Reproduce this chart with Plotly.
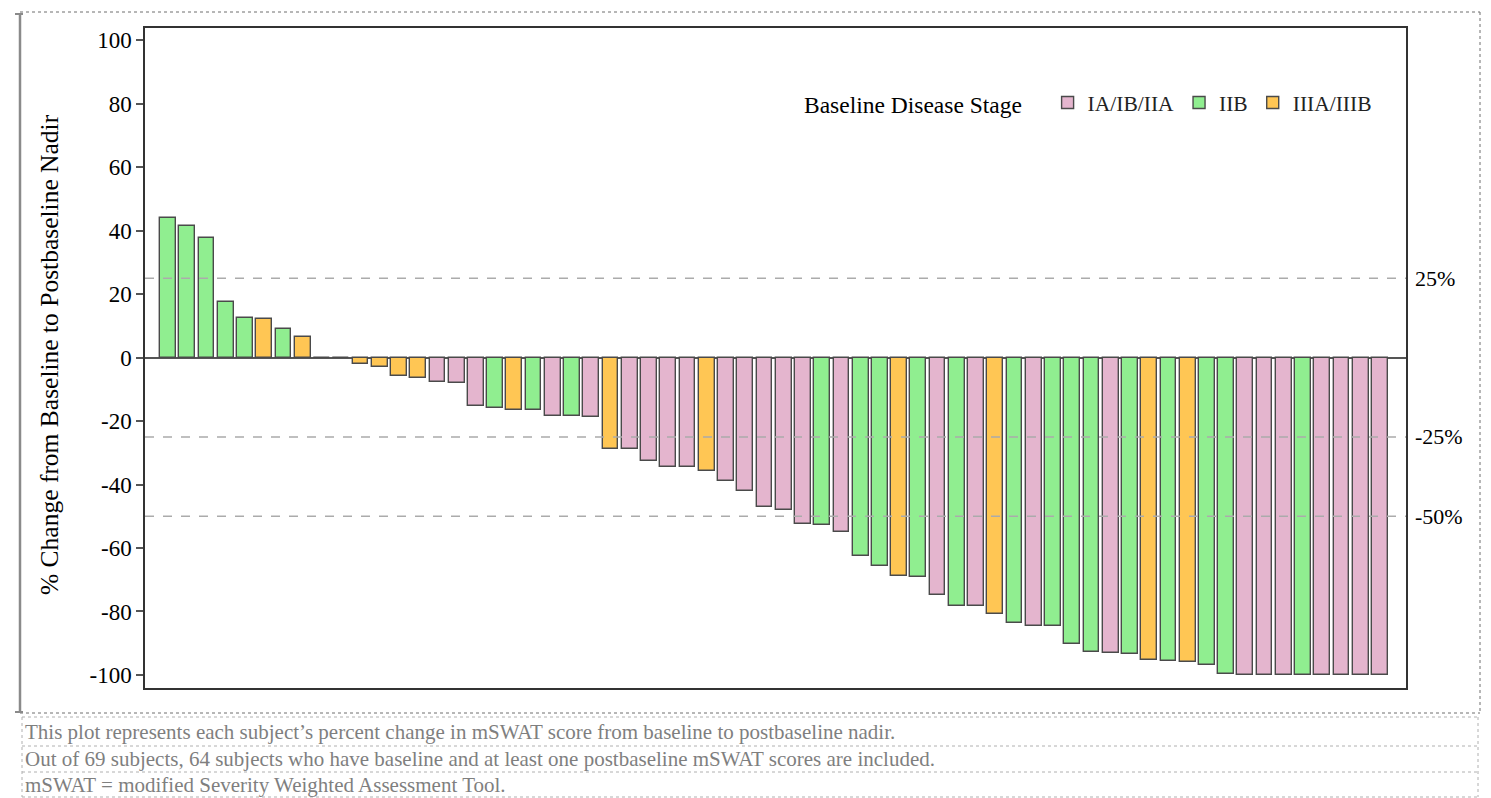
import plotly.graph_objects as go

# ---------------- data ----------------
stage_names = ["IA/IB/IIA", "IIB", "IIIA/IIIB"]
stage_colors = ["#E4B5CE", "#90EE90", "#FFC654"]

pct_change = [
    43.9, 41.5, 37.5, 17.4, 12.3, 12.0, 9.1, 6.5, 0.0, 0.0,
    -2.0, -2.9, -5.7, -6.5, -7.6, -7.9, -15.2, -16.0, -16.4, -16.4,
    -18.4, -18.4, -18.7, -28.8, -28.7, -32.6, -34.5, -34.6, -35.9, -38.8,
    -42.2, -47.0, -47.9, -52.4, -52.6, -54.9, -62.5, -65.8, -68.9, -69.2,
    -74.9, -78.4, -78.4, -80.7, -83.7, -84.7, -84.7, -90.1, -92.7, -93.2,
    -93.5, -95.3, -95.7, -96.0, -96.9, -99.6, -100.0, -100.0, -100.0, -100.0,
    -100.0, -100.0, -100.0, -100.0,
]
stage = [
    "IIB", "IIB", "IIB", "IIB", "IIB", "IIIA/IIIB", "IIB", "IIIA/IIIB", "IA/IB/IIA", "IA/IB/IIA",
    "IIIA/IIIB", "IIIA/IIIB", "IIIA/IIIB", "IIIA/IIIB", "IA/IB/IIA", "IA/IB/IIA", "IA/IB/IIA", "IIB", "IIIA/IIIB", "IIB",
    "IA/IB/IIA", "IIB", "IA/IB/IIA", "IIIA/IIIB", "IA/IB/IIA", "IA/IB/IIA", "IA/IB/IIA", "IA/IB/IIA", "IIIA/IIIB", "IA/IB/IIA",
    "IA/IB/IIA", "IA/IB/IIA", "IA/IB/IIA", "IA/IB/IIA", "IIB", "IA/IB/IIA", "IIB", "IIB", "IIIA/IIIB", "IIB",
    "IA/IB/IIA", "IIB", "IA/IB/IIA", "IIIA/IIIB", "IIB", "IA/IB/IIA", "IIB", "IIB", "IIB", "IA/IB/IIA",
    "IIB", "IIIA/IIIB", "IIB", "IIIA/IIIB", "IIB", "IIB", "IA/IB/IIA", "IA/IB/IIA", "IA/IB/IIA", "IIB",
    "IA/IB/IIA", "IA/IB/IIA", "IA/IB/IIA", "IA/IB/IIA",
]
subject = list(range(len(pct_change)))

ref_values = [25, -25, -50]
ref_labels = ["25%", "-25%", "-50%"]
y_ticks = [100, 80, 60, 40, 20, 0, -20, -40, -60, -80, -100]
y_tick_labels = ["100", "80", "60", "40", "20", "0", "-20", "-40", "-60", "-80", "-100"]

footnotes = [
    "This plot represents each subject\u2019s percent change in mSWAT score from baseline to postbaseline nadir.",
    "Out of 69 subjects, 64 subjects who have baseline and at least one postbaseline mSWAT scores are included.",
    "mSWAT = modified Severity Weighted Assessment Tool.",
]

# ---------------- geometry helpers (screen pixels) ----------------
OFF = 8                      # default page margin of the html body
W, H = 1491 - 2 * OFF, 798 - OFF
L, R, T, B = 145, 1406, 28, 688


def px(x):
    return (x - L) / (R - L)


def py(y):
    return (B - y) / (B - T)


SERIF = "Liberation Serif"

fig = go.Figure()
for name, color in zip(stage_names, stage_colors):
    xs = [s for s, st in zip(subject, stage) if st == name]
    ys = [v for v, st in zip(pct_change, stage) if st == name]
    fig.add_trace(go.Bar(
        x=xs, y=ys, name=name,
        marker=dict(color=color, line=dict(color="#4a4a4a", width=1.4)),
        width=0.82,
    ))

shapes = []
for v in ref_values:
    shapes.append(dict(type="line", xref="paper", yref="y", x0=0, x1=1, y0=v, y1=v,
                       line=dict(color="#ABABAB", width=1.5, dash="dash"), layer="above"))

# outer frame
dot = dict(color="#6f6f6f", width=1, dash="dot")
shapes += [
    dict(type="line", xref="paper", yref="paper", x0=px(20), x1=px(1480), y0=py(12), y1=py(12), line=dot),
    dict(type="line", xref="paper", yref="paper", x0=px(1480), x1=px(1480), y0=py(12), y1=py(713), line=dot),
    dict(type="line", xref="paper", yref="paper", x0=px(20), x1=px(1480), y0=py(713), y1=py(713), line=dot),
    dict(type="line", xref="paper", yref="paper", x0=px(20), x1=px(20), y0=py(14), y1=py(712),
         line=dict(color="#8a8a8a", width=2.5)),
    dict(type="line", xref="paper", yref="paper", x0=px(15), x1=px(23), y0=py(14), y1=py(14),
         line=dict(color="#8a8a8a", width=2)),
    dict(type="line", xref="paper", yref="paper", x0=px(15), x1=px(23), y0=py(712), y1=py(712),
         line=dict(color="#8a8a8a", width=2)),
]
# footnote table
dot2 = dict(color="#b0b0b0", width=1, dash="dot")
for yy in [717, 746, 772, 797]:
    shapes.append(dict(type="line", xref="paper", yref="paper", x0=px(22), x1=px(1478),
                       y0=py(yy), y1=py(yy), line=dot2))
for xx in [22, 1478]:
    shapes.append(dict(type="line", xref="paper", yref="paper", x0=px(xx), x1=px(xx),
                       y0=py(717), y1=py(797), line=dot2))

annotations = []
for v, lab in zip(ref_values, ref_labels):
    annotations.append(dict(x=px(1413), xref="paper", y=v, yref="y", text=lab, showarrow=False,
                            xanchor="left", yanchor="middle",
                            font=dict(family=SERIF, size=22, color="black")))
annotations.append(dict(x=px(49), xref="paper", y=py(355), yref="paper",
                        text="% Change from Baseline to Postbaseline Nadir", textangle=-90,
                        showarrow=False, xanchor="center", yanchor="middle",
                        font=dict(family=SERIF, size=25.5, color="black")))
for txt, yy in zip(footnotes, [732, 759, 785]):
    annotations.append(dict(x=px(23), xref="paper", y=py(yy), yref="paper", text=txt,
                            showarrow=False, xanchor="left", yanchor="middle",
                            font=dict(family=SERIF, size=21, color="#7f7f7f")))

fig.update_layout(
    width=W, height=H,
    margin=dict(l=L - OFF, r=W - (R - OFF), t=T - OFF, b=H - (B - OFF), pad=0),
    paper_bgcolor="white", plot_bgcolor="white",
    barmode="overlay",
    bargap=0,
    showlegend=True,
    legend=dict(
        orientation="h", x=px(802), y=py(82), xanchor="left", yanchor="top",
        title=dict(text="Baseline Disease Stage   ", side="left",
                   font=dict(family=SERIF, size=23.5, color="black")),
        font=dict(family=SERIF, size=21.5, color="#222222"),
        bgcolor="rgba(0,0,0,0)", itemwidth=30, traceorder="normal",
    ),
    xaxis=dict(range=[-1.2, 64.35], showticklabels=False, ticks="", showgrid=False,
               zeroline=False, showline=True, linecolor="#333333", linewidth=1.5, mirror=True),
    yaxis=dict(range=[-104.1, 103.8], tickmode="array", tickvals=y_ticks, ticktext=y_tick_labels,
               ticks="outside", ticklen=7,
               tickwidth=1.5, tickcolor="#555555", showgrid=False,
               zeroline=True, zerolinecolor="#555555", zerolinewidth=1.5,
               showline=True, linecolor="#333333", linewidth=1.5, mirror=True,
               tickfont=dict(family=SERIF, size=23, color="black")),
    shapes=shapes,
    annotations=annotations,
)

fig.write_html("out.html")
